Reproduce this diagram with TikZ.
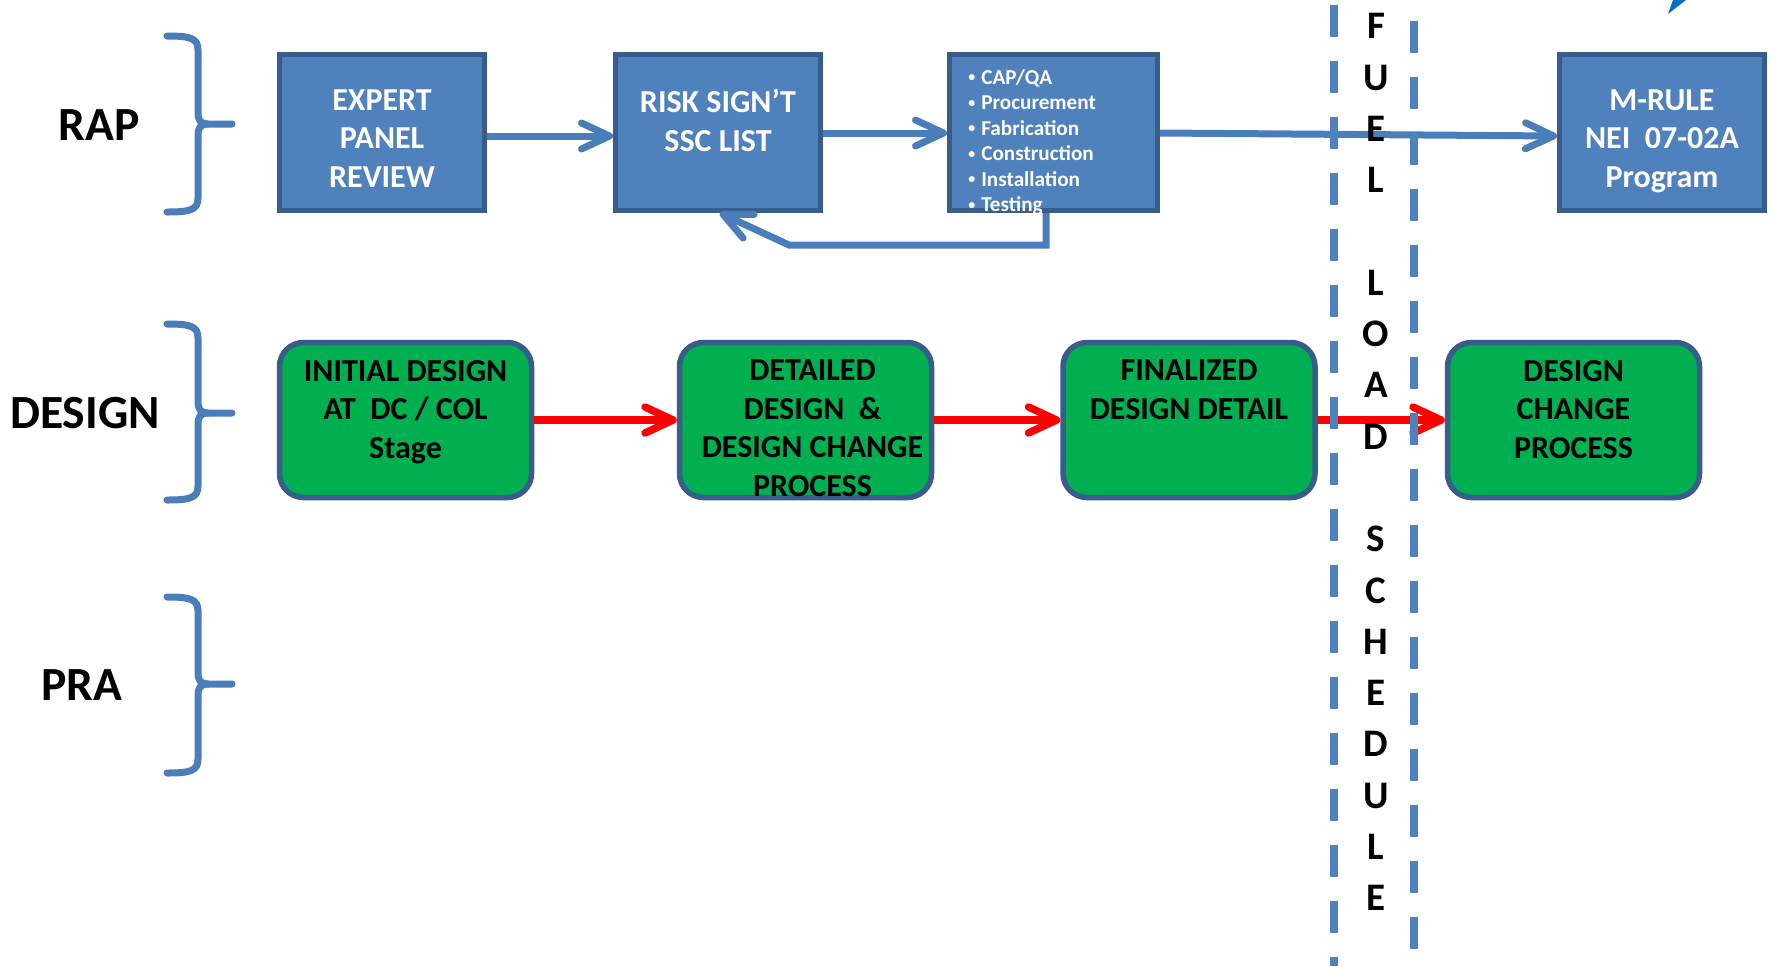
\documentclass[tikz,border=0pt]{standalone}
\usepackage{fontspec}
\setmainfont{Carlito}
\usetikzlibrary{arrows.meta}
\definecolor{boxblue}{HTML}{4F81BD}
\definecolor{edgeblue}{HTML}{385D8A}
\definecolor{linkblue}{HTML}{4A7EBB}
\definecolor{stagegreen}{HTML}{00B050}
\definecolor{flowred}{HTML}{FF0000}
\definecolor{tipblue}{HTML}{0070C0}
% small list bullet
\newcommand\listdot{\raisebox{0.12em}{\fontsize{7}{7}\selectfont •}\hspace{0.28em}}

\begin{document}
\begin{tikzpicture}[x=0.5pt,y=-0.5pt,
  bluebox/.style={draw=edgeblue, fill=boxblue, line width=2.5pt,
    minimum width=102.5pt, minimum height=78pt, inner sep=0pt},
  greenbox/.style={draw=edgeblue, fill=stagegreen, line width=2.75pt,
    rounded corners=12pt, minimum width=126pt, minimum height=77.5pt, inner sep=0pt},
  boxtext/.style={anchor=north, inner sep=0pt, align=center,
    font=\fontsize{16}{19.25}\selectfont\bfseries},
  bullettext/.style={anchor=north west, inner sep=0pt, align=left, text=white,
    font=\fontsize{10.6}{12.75}\selectfont\bfseries},
  lanelabel/.style={inner sep=0pt, font=\fontsize{23.8}{28}\selectfont\bfseries},
  columntext/.style={anchor=north, inner sep=0pt, align=center,
    font=\fontsize{19.5}{25.65}\selectfont\bfseries},
  lanebrace/.style={draw=linkblue, line width=3.5pt, line cap=round, line join=round},
  bluearrow/.style={draw=linkblue, line width=3.5pt,
    -{Straight Barb[round, length=14pt, width=13pt]}},
  redarrow/.style={draw=flowred, line width=3.75pt,
    -{Straight Barb[round, length=14pt, width=13pt]}},
  milestone/.style={draw=boxblue, line width=4pt, dash pattern=on 16pt off 12pt}
]
\useasboundingbox (0,0) rectangle (1779,966);

% lane labels and braces
\node[lanelabel] (rap) at (99,125) {RAP};
\node[lanelabel] (design) at (85,413) {DESIGN};
\node[lanelabel] (pra) at (82,685) {PRA};
\foreach \t/\m/\b in {36/124/212, 324/413/500, 597/684/773}{
  \draw[lanebrace] (167,\t) .. controls (190,\t) and (198,\t+2) .. (198,\t+14)
    -- (198,\m-12) .. controls (198,\m-4) and (200,\m) .. (208,\m) -- (232,\m);
  \draw[lanebrace] (208,\m) .. controls (200,\m) and (198,\m+4) .. (198,\m+12)
    -- (198,\b-14) .. controls (198,\b-2) and (190,\b) .. (167,\b);
}

% RAP row
\node[bluebox] (ep) at (382,132.5) {};
\node[boxtext, text=white] (ept) at ([yshift=-18.5pt]ep.north) {EXPERT\\PANEL\\REVIEW};
\node[bluebox] (rs) at (718,132.5) {};
\node[boxtext, text=white] (rst) at ([yshift=-18.5pt]rs.north) {RISK SIGN’T\\SSC LIST};
\node[bluebox, minimum width=104pt] (bl) at (1053.5,132.5) {};
\node[bullettext] (blt) at ([xshift=10.5pt,yshift=-8.5pt]bl.north west)
  {\listdot CAP/QA\\\listdot Procurement\\\listdot Fabrication\\\listdot Construction\\\listdot Installation\\\listdot Testing};
\node[bluebox] (mr) at (1662,132.5) {};
\node[boxtext, text=white] (mrt) at ([yshift=-18.5pt]mr.north) {M-RULE\\NEI\ \ 07-02A\\Program};

\coordinate (fb) at (789,245);
\draw[bluearrow] ([yshift=-1.75pt]ep.east) -- ([yshift=-1.75pt]rs.west);
\draw[bluearrow] ([yshift=-0.25pt]rs.east) -- ([yshift=-0.25pt]bl.west);
\draw[bluearrow] ([yshift=-0.25pt]bl.east) -- ([yshift=-1.75pt]mr.west);
\draw[bluearrow, line join=miter] ([xshift=-3.75pt]bl.south) |- (fb) -- ([xshift=1pt]rs.south);

% DESIGN row
\node[greenbox] (g1) at (405.5,420) {};
\node[boxtext] (g1t) at ([yshift=-10pt]g1.north) {INITIAL DESIGN\\AT\ \ DC / COL\\Stage};
\node[greenbox] (g2) at (805.5,420) {};
\node[boxtext] (g2t) at ([yshift=-10pt,xshift=3.5pt]g2.north) {DETAILED\\DESIGN\ \ \&\\DESIGN CHANGE\\PROCESS};
\node[greenbox] (g3) at (1189,420) {};
\node[boxtext] (g3t) at ([yshift=-10pt]g3.north) {FINALIZED\\DESIGN DETAIL};
\node[greenbox] (g4) at (1573.5,420) {};
\node[boxtext] (g4t) at ([yshift=-10pt]g4.north) {DESIGN\\CHANGE\\PROCESS};

\draw[redarrow] (g1.east) -- (g2.west);
\draw[redarrow] (g2.east) -- (g3.west);
\draw[redarrow] (g3.east) -- (g4.west);

% fuel load milestone
\coordinate (ml1) at (1334,5);
\coordinate (ml2) at (1334,966);
\coordinate (mr1) at (1414,21);
\coordinate (mr2) at (1414,949);
\draw[milestone] (ml1) -- (ml2);
\draw[milestone] (mr1) -- (mr2);
\node[columntext] (fls) at (1376,13)
  {F\\U\\E\\L\\~\\L\\O\\A\\D\\~\\S\\C\\H\\E\\D\\U\\L\\E};

% arrow tip entering at the top edge
\fill[tipblue] (1668,14) -- (1673,0) -- (1686,0) -- cycle;
\end{tikzpicture}
\end{document}
